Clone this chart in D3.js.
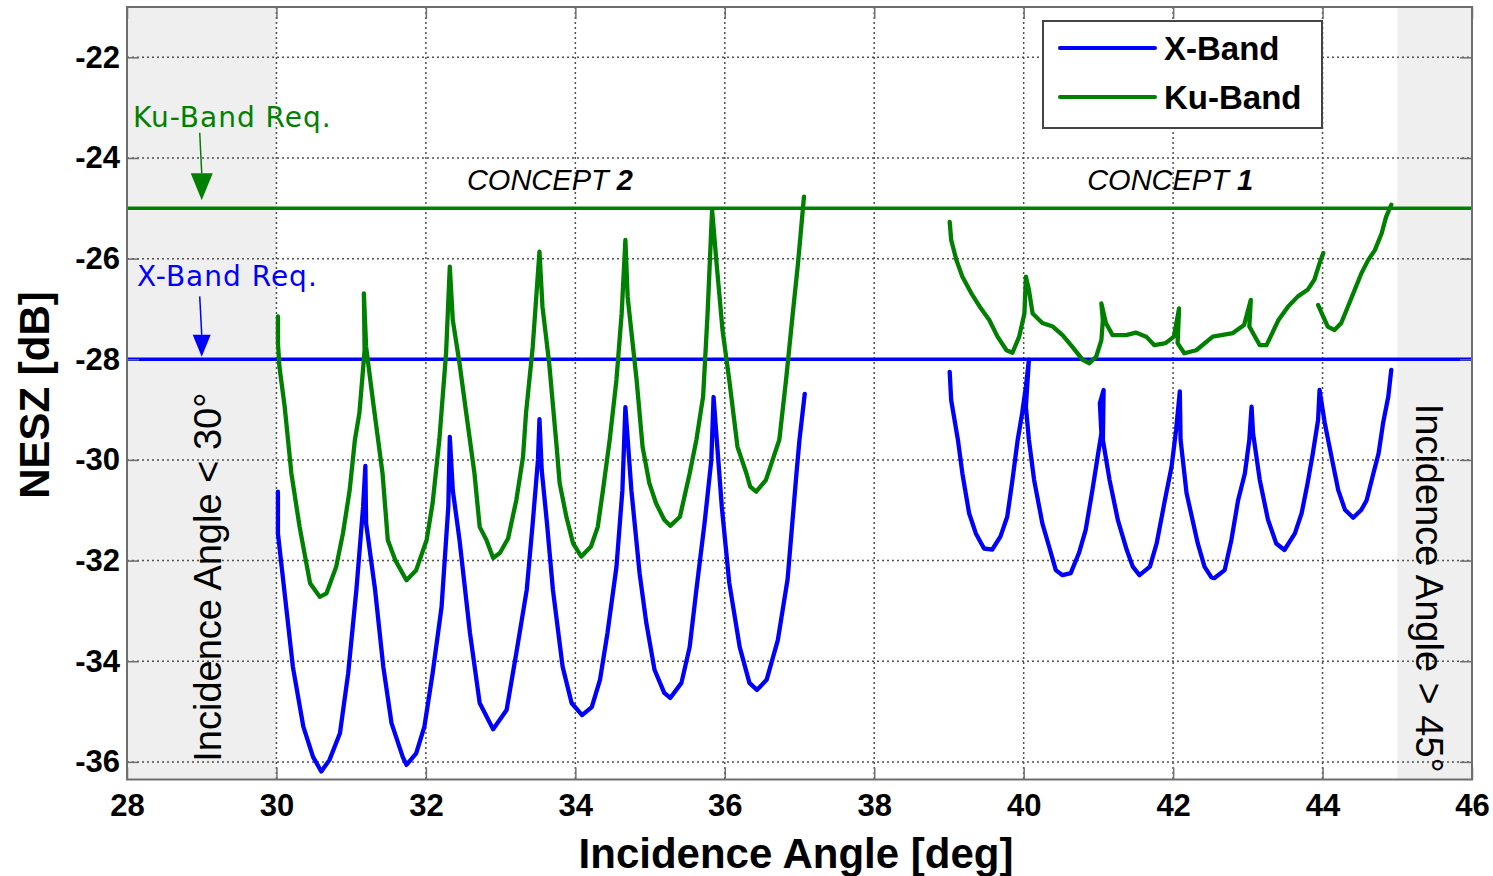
<!DOCTYPE html>
<html>
<head>
<meta charset="utf-8">
<script src="https://cdn.jsdelivr.net/npm/d3@7"></script>
<style>
    body { margin: 0; background: #fff; }
    svg { display: block; }
    .axis text { font-family: "Liberation Sans", Arial, sans-serif; font-weight: bold; font-size: 31px; fill: #000; }
    .axis .domain { display: none; }
    .axis line { stroke: #6e6e6e; stroke-width: 1.5; }
    .grid line { stroke: #505050; stroke-width: 1.5; stroke-dasharray: 2 3; }
    .note { font-family: "DejaVu Sans", sans-serif; font-size: 28px; letter-spacing: 1px; }
</style>
</head>
<body>
<div id="chart"></div>
<script>
const xTicks = [28, 30, 32, 34, 36, 38, 40, 42, 44, 46];
const yTicks = [-36, -34, -32, -30, -28, -26, -24, -22];
const xDomain = [28, 46];
const yDomain = [-36.35, -21];
const shadedRanges = [[28, 30], [45, 46]];
const requirementLevels = [-25, -28]; // Ku-Band, X-Band

// Concept 2, X-Band (blue) [angle, dB]
const xBandConcept2 = [
    [30.02, -30.63], [30.02, -31.46], [30.13, -32.92], [30.22, -34.11], [30.36, -35.30], [30.49, -35.90],
    [30.60, -36.19], [30.71, -35.96], [30.85, -35.43], [30.96, -34.24], [31.07, -32.58], [31.16, -30.93],
    [31.19, -30.12], [31.20, -31.26], [31.32, -32.58], [31.43, -34.11], [31.54, -35.23], [31.69, -35.90],
    [31.74, -36.06], [31.87, -35.83], [31.98, -35.30], [32.09, -34.24], [32.21, -32.92], [32.30, -30.93],
    [32.32, -29.54], [32.36, -30.60], [32.45, -31.59], [32.59, -33.44], [32.72, -34.83], [32.90, -35.35],
    [33.08, -34.97], [33.21, -33.84], [33.35, -32.58], [33.43, -31.25], [33.50, -30.00], [33.52, -29.19],
    [33.55, -30.20], [33.62, -31.25], [33.70, -32.58], [33.83, -34.11], [33.95, -34.83], [34.09, -35.07],
    [34.22, -34.91], [34.33, -34.37], [34.43, -33.44], [34.55, -32.13], [34.63, -30.60], [34.67, -28.95],
    [34.75, -30.60], [34.86, -32.25], [34.95, -33.24], [35.06, -34.17], [35.19, -34.63], [35.27, -34.73],
    [35.42, -34.43], [35.53, -33.72], [35.62, -32.58], [35.73, -31.25], [35.82, -30.00], [35.85, -28.75],
    [35.96, -30.93], [36.06, -32.44], [36.20, -33.72], [36.33, -34.43], [36.43, -34.57], [36.56, -34.37],
    [36.71, -33.58], [36.84, -32.38], [36.96, -30.26], [37.00, -29.60], [37.07, -28.69]
];

// Concept 2, Ku-Band (green)
const kuBandConcept2 = [
    [30.02, -27.15], [30.02, -27.68], [30.04, -28.15], [30.11, -28.94], [30.20, -30.27], [30.31, -31.33],
    [30.40, -32.05], [30.45, -32.45], [30.58, -32.72], [30.67, -32.65], [30.80, -32.12], [30.89, -31.46],
    [30.98, -30.60], [31.05, -29.60], [31.11, -29.07], [31.18, -27.82], [31.17, -26.69], [31.20, -27.75],
    [31.29, -28.81], [31.42, -30.27], [31.49, -31.59], [31.59, -31.99], [31.74, -32.39], [31.87, -32.19],
    [32.01, -31.59], [32.09, -30.86], [32.18, -29.60], [32.27, -27.88], [32.32, -26.16], [32.36, -27.22],
    [32.45, -28.08], [32.54, -29.07], [32.65, -30.27], [32.72, -31.33], [32.81, -31.59], [32.90, -31.95],
    [32.99, -31.85], [33.10, -31.56], [33.21, -30.80], [33.30, -29.94], [33.34, -29.07], [33.43, -27.75],
    [33.52, -25.86], [33.56, -26.95], [33.65, -28.08], [33.75, -29.74], [33.79, -30.46], [33.88, -31.13],
    [33.97, -31.66], [34.08, -31.92], [34.21, -31.72], [34.30, -31.33], [34.37, -30.60], [34.46, -29.60],
    [34.55, -28.41], [34.62, -27.09], [34.67, -25.63], [34.70, -26.76], [34.82, -28.41], [34.90, -29.74],
    [34.99, -30.46], [35.08, -30.86], [35.19, -31.19], [35.27, -31.31], [35.40, -31.13], [35.46, -30.73],
    [35.53, -30.27], [35.62, -29.60], [35.71, -28.74], [35.77, -27.09], [35.83, -25.03], [35.89, -26.09],
    [35.97, -27.42], [36.06, -28.41], [36.17, -29.74], [36.29, -30.27], [36.34, -30.53], [36.42, -30.63],
    [36.55, -30.40], [36.64, -30.00], [36.73, -29.60], [36.82, -28.41], [36.91, -27.09], [36.98, -26.09],
    [37.06, -24.77]
];

// Concept 1, X-Band (blue)
const xBandConcept1 = [
    [39.01, -28.25], [39.03, -28.81], [39.12, -29.60], [39.18, -30.27], [39.27, -31.06], [39.36, -31.46],
    [39.47, -31.76], [39.58, -31.78], [39.69, -31.52], [39.78, -31.13], [39.85, -30.40], [39.92, -29.60],
    [39.98, -29.07], [40.03, -28.54], [40.07, -28.01], [40.03, -28.94], [40.07, -29.60], [40.14, -30.40],
    [40.25, -31.26], [40.34, -31.72], [40.43, -32.19], [40.52, -32.29], [40.63, -32.25], [40.74, -31.85],
    [40.83, -31.39], [40.92, -30.60], [40.99, -29.94], [41.04, -29.47], [41.02, -28.87], [41.07, -28.61],
    [41.06, -29.60], [41.15, -30.40], [41.26, -31.19], [41.38, -31.79], [41.46, -32.12], [41.55, -32.29],
    [41.69, -32.12], [41.78, -31.66], [41.89, -30.80], [41.98, -30.13], [42.04, -29.40], [42.09, -28.64],
    [42.10, -29.60], [42.18, -30.66], [42.24, -31.06], [42.33, -31.66], [42.42, -32.12], [42.51, -32.33],
    [42.55, -32.35], [42.69, -32.19], [42.78, -31.59], [42.87, -30.80], [42.96, -30.27], [43.02, -29.60],
    [43.05, -28.94], [43.07, -29.47], [43.16, -30.40], [43.27, -31.19], [43.38, -31.66], [43.49, -31.79],
    [43.63, -31.46], [43.72, -31.06], [43.80, -30.46], [43.87, -29.87], [43.94, -29.21], [43.96, -28.61],
    [44.03, -29.27], [44.12, -29.94], [44.21, -30.60], [44.30, -30.99], [44.41, -31.15], [44.52, -30.99],
    [44.59, -30.80], [44.68, -30.27], [44.75, -29.87], [44.81, -29.27], [44.88, -28.74], [44.92, -28.21]
];

// Concept 1, Ku-Band (green); null marks the break near 44 deg
const kuBandConcept1 = [
    [39.01, -25.27], [39.03, -25.63], [39.10, -26.03], [39.18, -26.36], [39.30, -26.69], [39.41, -26.95],
    [39.54, -27.22], [39.65, -27.55], [39.77, -27.82], [39.85, -27.87], [39.94, -27.55], [40.01, -27.09],
    [40.03, -26.36], [40.07, -26.62], [40.12, -27.09], [40.25, -27.28], [40.39, -27.35], [40.52, -27.52],
    [40.65, -27.75], [40.79, -28.01], [40.88, -28.08], [40.97, -27.95], [41.04, -27.62], [41.06, -27.22],
    [41.04, -26.89], [41.10, -27.28], [41.19, -27.52], [41.37, -27.52], [41.50, -27.47], [41.64, -27.55],
    [41.75, -27.72], [41.90, -27.68], [42.01, -27.55], [42.08, -26.99], [42.06, -27.68], [42.15, -27.88],
    [42.31, -27.82], [42.53, -27.55], [42.80, -27.48], [42.95, -27.32], [43.04, -26.82], [43.02, -27.35],
    [43.16, -27.72], [43.25, -27.72], [43.41, -27.22], [43.54, -26.95], [43.67, -26.75], [43.80, -26.62],
    [43.89, -26.42], [43.96, -26.09], [44.01, -25.89],
    null,
    [43.94, -26.92], [43.99, -27.09], [44.07, -27.35], [44.16, -27.42], [44.25, -27.28], [44.34, -26.95],
    [44.43, -26.62], [44.52, -26.29], [44.61, -26.03], [44.70, -25.83], [44.79, -25.50], [44.85, -25.17],
    [44.92, -24.93]
];

const blue = '#0000ff';
const green = '#008000';

drawChart();

function drawChart() {
    const width = 1493;
    const height = 876;

    const svg = d3.select('#chart')
        .append('svg')
        .attr('width', width)
        .attr('height', height);

    const x = d3.scaleLinear().domain(xDomain).range([127, 1472]);
    const y = d3.scaleLinear().domain(yDomain).range([779.5, 7]);
    const top = y(yDomain[1]);
    const bottom = y(yDomain[0]);
    const left = x(xDomain[0]);
    const right = x(xDomain[1]);

    svg.append('g')
        .selectAll('rect')
        .data(shadedRanges)
        .join('rect')
        .attr('x', d => x(d[0]))
        .attr('y', top)
        .attr('width', d => x(d[1]) - x(d[0]))
        .attr('height', bottom - top)
        .attr('fill', '#efefef');

    // dotted grid
    const grid = svg.append('g').attr('class', 'grid');
    grid.selectAll('line.v')
        .data(xTicks.slice(1, -1))
        .join('line')
        .attr('class', 'v')
        .attr('x1', d => x(d)).attr('x2', d => x(d))
        .attr('y1', top).attr('y2', bottom);
    grid.selectAll('line.h')
        .data(yTicks)
        .join('line')
        .attr('class', 'h')
        .attr('x1', left).attr('x2', right)
        .attr('y1', d => y(d)).attr('y2', d => y(d));

    // requirement levels
    svg.append('g')
        .selectAll('line')
        .data(requirementLevels)
        .join('line')
        .attr('x1', left + 1).attr('x2', right - 1)
        .attr('y1', d => y(d)).attr('y2', d => y(d))
        .attr('stroke', (d, i) => i === 0 ? green : blue)
        .attr('stroke-width', 3.5);

    const line = d3.line()
        .defined(d => d !== null)
        .x(d => x(d[0]))
        .y(d => y(d[1]));

    const series = [
        { data: kuBandConcept2, color: green },
        { data: kuBandConcept1, color: green },
        { data: xBandConcept2, color: blue },
        { data: xBandConcept1, color: blue }
    ];

    svg.append('g')
        .selectAll('path')
        .data(series)
        .join('path')
        .attr('fill', 'none')
        .attr('stroke', d => d.color)
        .attr('stroke-width', 4.3)
        .attr('stroke-linejoin', 'round')
        .attr('stroke-linecap', 'round')
        .attr('d', d => line(d.data));

    // axes with inward ticks, MATLAB style
    const tickLen = 12;
    svg.append('g')
        .attr('class', 'axis')
        .attr('transform', `translate(0,${bottom})`)
        .call(d3.axisBottom(x).tickValues(xTicks).tickSize(-tickLen).tickPadding(14).tickFormat(d => String(d)));
    svg.append('g')
        .attr('class', 'axis')
        .attr('transform', `translate(0,${top})`)
        .call(d3.axisTop(x).tickValues(xTicks).tickSize(-tickLen).tickFormat(''));
    svg.append('g')
        .attr('class', 'axis')
        .attr('transform', `translate(${left},0)`)
        .call(d3.axisLeft(y).tickValues(yTicks).tickSize(-tickLen).tickPadding(7).tickFormat(d => String(d)));
    svg.append('g')
        .attr('class', 'axis')
        .attr('transform', `translate(${right},0)`)
        .call(d3.axisRight(y).tickValues(yTicks).tickSize(-tickLen).tickFormat(''));

    svg.append('rect')
        .attr('x', left).attr('y', top)
        .attr('width', right - left).attr('height', bottom - top)
        .attr('fill', 'none')
        .attr('stroke', '#6e6e6e')
        .attr('stroke-width', 2);

    // axis titles
    svg.append('text')
        .attr('x', 796)
        .attr('y', 868)
        .attr('text-anchor', 'middle')
        .style('font-family', '"Liberation Sans", Arial, sans-serif')
        .style('font-weight', 'bold')
        .style('font-size', '42px')
        .text('Incidence Angle [deg]');

    svg.append('text')
        .attr('transform', 'translate(49,395) rotate(-90)')
        .attr('text-anchor', 'middle')
        .style('font-family', '"Liberation Sans", Arial, sans-serif')
        .style('font-weight', 'bold')
        .style('font-size', '42px')
        .text('NESZ [dB]');

    // region labels
    svg.append('text')
        .attr('transform', `translate(221,${y(-32.33)}) rotate(-90)`)
        .attr('text-anchor', 'middle')
        .style('font-family', '"Liberation Sans", Arial, sans-serif')
        .style('font-size', '38px')
        .text('Incidence Angle < 30°');

    svg.append('text')
        .attr('transform', `translate(1416,${y(-32.55)}) rotate(90)`)
        .attr('text-anchor', 'middle')
        .style('font-family', '"Liberation Sans", Arial, sans-serif')
        .style('font-size', '38px')
        .text('Incidence Angle > 45°');

    // concept labels
    const conceptLabels = [
        { name: 'CONCEPT', num: '2', at: 33.66 },
        { name: 'CONCEPT', num: '1', at: 41.96 }
    ];
    conceptLabels.forEach(c => {
        const t = svg.append('text')
            .attr('x', x(c.at))
            .attr('y', y(-24.63))
            .attr('text-anchor', 'middle')
            .style('font-family', '"Liberation Sans", Arial, sans-serif')
            .style('font-style', 'italic')
            .style('font-size', '29px');
        t.append('tspan').text(c.name + '  ');
        t.append('tspan').style('font-weight', 'bold').text(c.num);
    });

    // requirement annotations with arrows
    const notes = [
        { label: 'Ku-Band Req.', color: green, textY: -23.38, from: -23.5, to: -24.84 },
        { label: 'X-Band Req.', color: blue, textY: -26.55, from: -26.75, to: -27.95 }
    ];
    notes.forEach((n, i) => {
        svg.append('text')
            .attr('class', 'note')
            .attr('x', i === 0 ? 133 : 137)
            .attr('y', y(n.textY))
            .attr('fill', n.color)
            .text(n.label);

        const ax = x(29);
        const tip = y(n.to);
        const headLen = i === 0 ? 27 : 22;
        const headW = i === 0 ? 11 : 9;
        svg.append('line')
            .attr('x1', ax - 2).attr('y1', y(n.from))
            .attr('x2', ax).attr('y2', tip - headLen)
            .attr('stroke', n.color)
            .attr('stroke-width', 1.5);
        svg.append('path')
            .attr('d', `M${ax - headW},${tip - headLen}L${ax + headW},${tip - headLen}L${ax},${tip}Z`)
            .attr('fill', n.color);
    });

    // legend
    const legend = svg.append('g');
    legend.append('rect')
        .attr('x', 1043).attr('y', 21)
        .attr('width', 279).attr('height', 107)
        .attr('fill', '#fff')
        .attr('stroke', '#444')
        .attr('stroke-width', 2);
    const legendItems = [
        { label: 'X-Band', color: blue },
        { label: 'Ku-Band', color: green }
    ];
    legendItems.forEach((item, i) => {
        const ly = 48 + i * 49;
        legend.append('line')
            .attr('x1', 1060).attr('x2', 1155)
            .attr('y1', ly).attr('y2', ly)
            .attr('stroke', item.color)
            .attr('stroke-width', 4)
            .attr('stroke-linecap', 'round');
        legend.append('text')
            .attr('x', 1164)
            .attr('y', ly + 12)
            .style('font-family', '"Liberation Sans", Arial, sans-serif')
            .style('font-weight', 'bold')
            .style('font-size', '33px')
            .text(item.label);
    });
}
</script>
</body>
</html>
